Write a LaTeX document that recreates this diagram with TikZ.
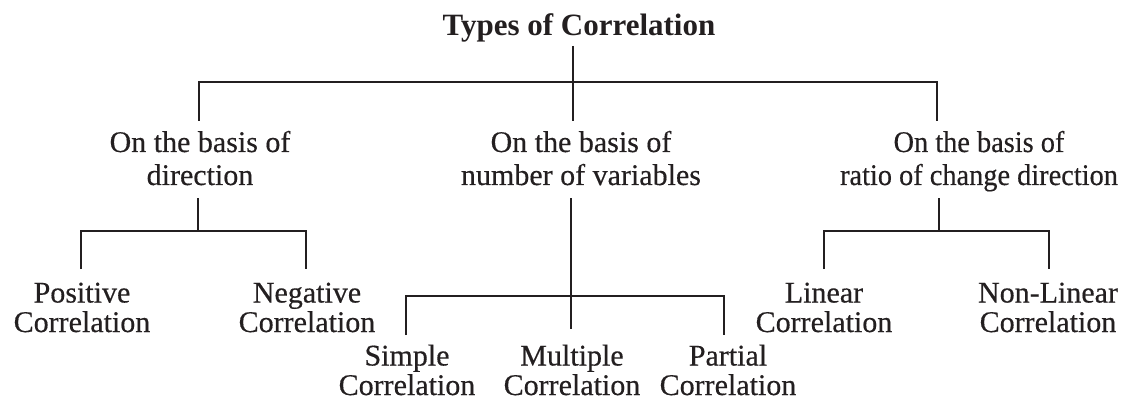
\documentclass[tikz,border=0pt]{standalone}
\usepackage{fontspec}
\setmainfont{Liberation Serif}
\newfontfamily\regfont{Liberation Serif}[FakeBold=0.4]
\newfontfamily\narrowfont{Liberation Serif}[FakeBold=0.4,FakeStretch=0.945]
\definecolor{ink}{HTML}{231F20}
\begin{document}
\begin{tikzpicture}[x=1pt,y=-1pt,
  conn/.style={draw=ink,line width=1.5pt},
  head/.style={inner sep=0pt,anchor=base,align=center,text=ink,
    font=\fontsize{31}{33}\selectfont\bfseries},
  lvlone/.style={inner sep=0pt,anchor=base,align=center,text=ink,
    font=\fontsize{30}{33}\regfont},
  lvltwo/.style={inner sep=0pt,anchor=base,align=center,text=ink,
    font=\fontsize{30}{29.5}\regfont}]
\useasboundingbox (0,0) rectangle (1122,401);
% texts (anchor=base is the baseline of the last line)
\node[head] (root) at (579,36) {Types of Correlation};
\node[lvlone] (dir) at (200,185) {On the basis of\\direction};
\node[lvlone] (num) at (581,185) {On the basis of\\number of variables};
\node[lvlone,font=\fontsize{30}{33}\narrowfont] (rat) at (979,185) {On the basis of\\ratio of change direction};
\node[lvltwo] (pos) at (82,332) {Positive\\Correlation};
\node[lvltwo] (neg) at (307,332) {Negative\\Correlation};
\node[lvltwo] (sim) at (407,395) {Simple\\Correlation};
\node[lvltwo] (mul) at (572,395) {Multiple\\Correlation};
\node[lvltwo] (par) at (728,395) {Partial\\Correlation};
\node[lvltwo] (lin) at (824,332) {Linear\\Correlation};
\node[lvltwo] (non) at (1048,332) {Non-Linear\\Correlation};
% junction coordinates
\coordinate (r0) at (573,46);
\coordinate (r1) at (573,82);
\coordinate (bl) at (199,82);
\coordinate (br) at (937,82);
\coordinate (dirT) at (199,121);
\coordinate (numT) at (573,121);
\coordinate (ratT) at (937,121);
% left
\coordinate (d0) at (198,198);
\coordinate (d1) at (198,231);
\coordinate (dl) at (81,231);
\coordinate (dr) at (306,231);
\coordinate (posT) at (81,269);
\coordinate (negT) at (306,269);
% middle
\coordinate (n0) at (571,198);
\coordinate (n1) at (571,296);
\coordinate (nl) at (406,296);
\coordinate (nr) at (724,296);
\coordinate (simT) at (406,335);
\coordinate (mulT) at (571,329);
\coordinate (parT) at (724,335);
% right
\coordinate (q0) at (939,198);
\coordinate (q1) at (939,231);
\coordinate (ql) at (824,231);
\coordinate (qr) at (1049,231);
\coordinate (linT) at (824,269);
\coordinate (nonT) at (1049,269);
% connectors
\draw[conn] (r0) -- (r1);
\draw[conn] (dirT) -- (bl) -- (br) -- (ratT);
\draw[conn] (r1) -- (numT);
\draw[conn] (d0) -- (d1);
\draw[conn] (posT) -- (dl) -- (dr) -- (negT);
\draw[conn] (n0) -- (mulT);
\draw[conn] (simT) -- (nl) -- (nr) -- (parT);
\draw[conn] (q0) -- (q1);
\draw[conn] (linT) -- (ql) -- (qr) -- (nonT);
\end{tikzpicture}
\end{document}
